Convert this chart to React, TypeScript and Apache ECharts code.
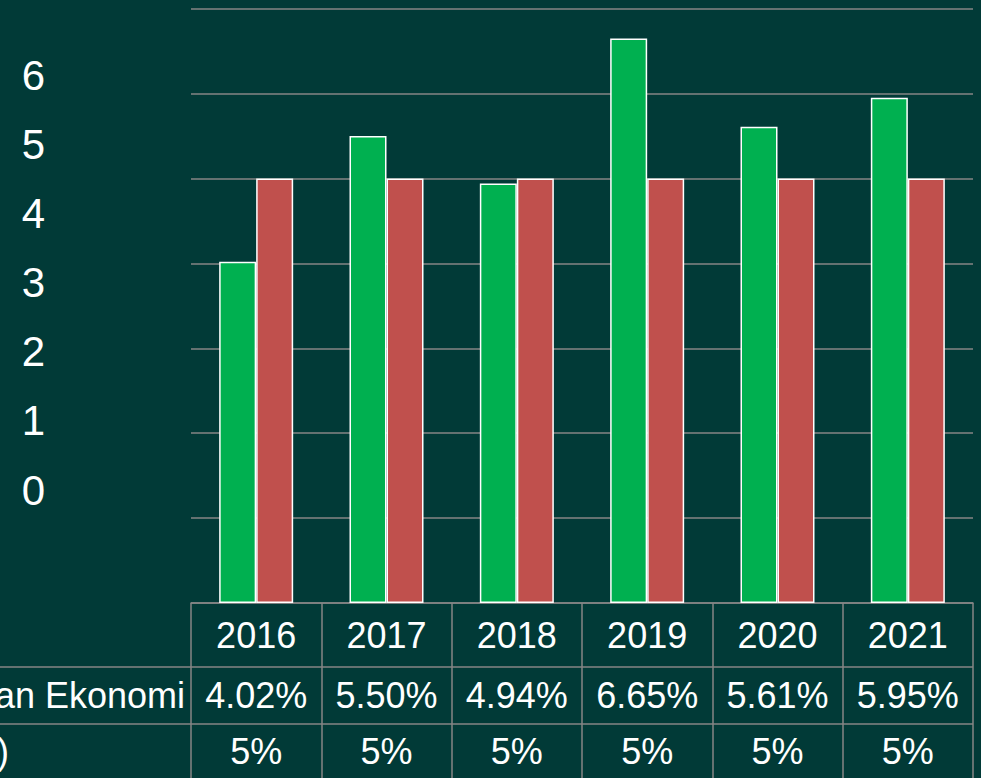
import React, { useEffect, useRef } from 'react';
import * as echarts from 'echarts';

const categories = ['2016', '2017', '2018', '2019', '2020', '2021'];
const growth = [4.02, 5.5, 4.94, 6.65, 5.61, 5.95];
const target = [5, 5, 5, 5, 5, 5];
const growthLabels = ['4.02%', '5.50%', '4.94%', '6.65%', '5.61%', '5.95%'];
const targetLabels = ['5%', '5%', '5%', '5%', '5%', '5%'];
const growthName = 'Pertumbuhan Ekonomi';
const targetName = 'Target (%)';

export default function App() {
  const ref = useRef<HTMLDivElement>(null);
  useEffect(() => {
    document.body.style.margin = '0';
    const chart = echarts.init(ref.current!, null, { renderer: 'svg' });
    const font = "'Liberation Sans', Arial, sans-serif";
    const gridColor = '#868686';
    const tableTop = 603;
    const rowH = [64, 57, 54];
    const row2Top = tableTop + rowH[0];
    const row3Top = row2Top + rowH[1];
    const tableRight = 973;
    const fs = 36;
    const textStyle = (lh: number) => ({
      fontSize: fs,
      lineHeight: lh,
      color: '#ffffff',
      fontFamily: font,
    });
    chart.setOption({
      animation: false,
      backgroundColor: '#013A37',
      grid: [
        { left: 191, right: 981 - tableRight, top: 8.7, bottom: 778 - tableTop },
        { left: 191, right: 981 - tableRight, top: tableTop, bottom: 0 },
        { left: 46, width: 10, top: 75, height: 415 },
      ],
      xAxis: [
        {
          gridIndex: 0,
          type: 'category',
          data: categories,
          axisLine: { show: true, lineStyle: { color: gridColor, width: 1.5 } },
          axisTick: { show: false },
          splitLine: { show: false },
          axisLabel: {
            margin: 0,
            interval: 0,
            formatter: (v: string, i: number) =>
              `{a|${v}}\n{b|${growthLabels[i]}}\n{c|${targetLabels[i]}}`,
            rich: {
              a: textStyle(rowH[0]),
              b: textStyle(rowH[1]),
              c: textStyle(rowH[2]),
            },
          },
        },
        {
          gridIndex: 1,
          type: 'category',
          data: categories,
          axisLine: { show: false },
          axisTick: { show: false },
          axisLabel: { show: false },
          splitLine: { show: true, lineStyle: { color: gridColor, width: 1.5 } },
        },
        { gridIndex: 2, type: 'value', show: false },
      ],
      yAxis: [
        {
          gridIndex: 0,
          type: 'value',
          min: 0,
          max: 7,
          interval: 1,
          axisLabel: { show: false },
          axisLine: { show: false },
          axisTick: { show: false },
          splitLine: { show: true, lineStyle: { color: gridColor, width: 1.5 } },
        },
        { gridIndex: 1, type: 'value', min: 0, max: 1, show: false },
        {
          gridIndex: 2,
          type: 'value',
          min: 0,
          max: 6,
          interval: 1,
          axisLine: { show: false },
          axisTick: { show: false },
          splitLine: { show: false },
          axisLabel: { fontSize: 42, color: '#ffffff', margin: 1, fontFamily: font },
        },
      ],
      series: [
        {
          type: 'bar',
          name: growthName,
          data: growth,
          xAxisIndex: 0,
          yAxisIndex: 0,
          barWidth: 37,
          barGap: '0%',
          itemStyle: { color: '#00B050', borderColor: '#ffffff', borderWidth: 1.5 },
        },
        {
          type: 'bar',
          name: targetName,
          data: target,
          xAxisIndex: 0,
          yAxisIndex: 0,
          barWidth: 37,
          barGap: '0%',
          itemStyle: { color: '#C0504D', borderColor: '#ffffff', borderWidth: 1.5 },
        },
      ],
      graphic: [
        {
          type: 'line',
          shape: { x1: 0, y1: row2Top, x2: tableRight, y2: row2Top },
          style: { stroke: gridColor, lineWidth: 1.5 },
        },
        {
          type: 'line',
          shape: { x1: 0, y1: row3Top, x2: tableRight, y2: row3Top },
          style: { stroke: gridColor, lineWidth: 1.5 },
        },
        {
          type: 'text',
          x: 185,
          y: row2Top + rowH[1] / 2,
          style: {
            text: growthName,
            fill: '#ffffff',
            fontSize: fs,
            fontFamily: font,
            align: 'right',
            textAlign: 'right',
            verticalAlign: 'middle',
            textVerticalAlign: 'middle',
          },
        },
        {
          type: 'text',
          x: 9,
          y: row3Top + rowH[2] / 2,
          style: {
            text: targetName,
            fill: '#ffffff',
            fontSize: fs,
            fontFamily: font,
            align: 'right',
            textAlign: 'right',
            verticalAlign: 'middle',
            textVerticalAlign: 'middle',
          },
        },
      ],
    });
    return () => chart.dispose();
  }, []);
  return <div ref={ref} style={{ width: 981, height: 778 }} />;
}
